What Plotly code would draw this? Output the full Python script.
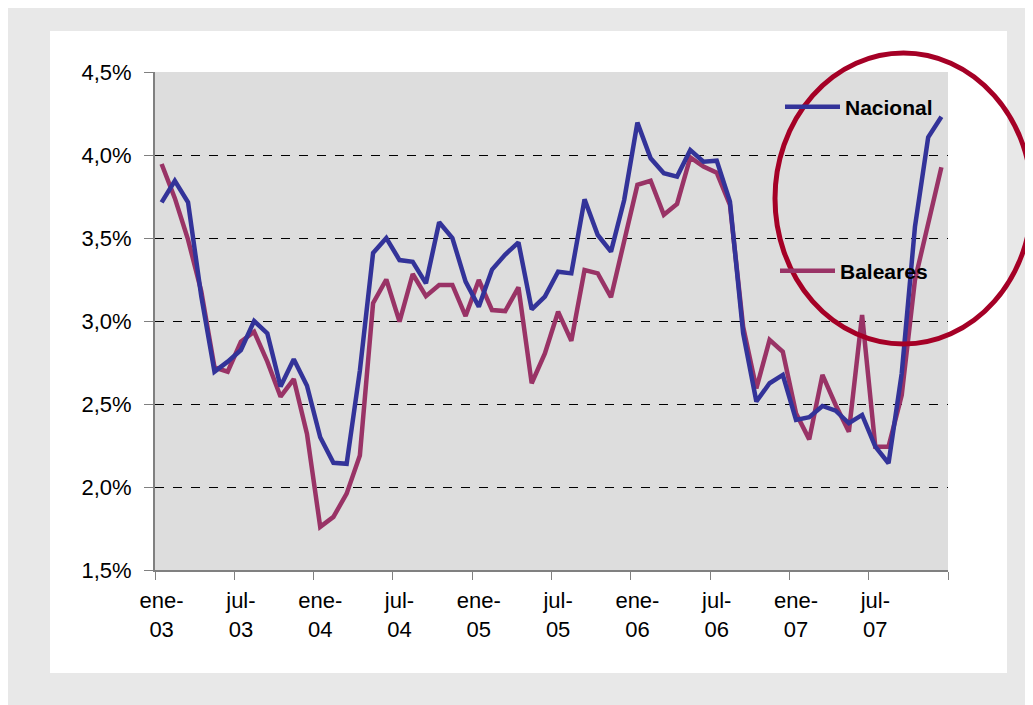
import plotly.graph_objects as go

# Monthly categories Jan-2003 .. Dec-2007
meses = ["ene", "feb", "mar", "abr", "may", "jun", "jul", "ago", "sep", "oct", "nov", "dic"]
anios = ["03", "04", "05", "06", "07"]
categorias = [f"{m}-{a}" for a in anios for m in meses]

nacional = [3.715, 3.845, 3.715, 3.15, 2.695, 2.755, 2.825, 3.0, 2.925, 2.605, 2.77, 2.61,
            2.30, 2.146, 2.14, 2.70, 3.41, 3.50, 3.367, 3.357, 3.227, 3.595, 3.50, 3.237,
            3.086, 3.31, 3.40, 3.474, 3.07, 3.147, 3.297, 3.287, 3.733, 3.518, 3.418, 3.729,
            4.195, 3.98, 3.89, 3.87, 4.03, 3.96, 3.966, 3.72, 2.926, 2.515, 2.625, 2.675,
            2.404, 2.42, 2.488, 2.46, 2.384, 2.434, 2.243, 2.143, 2.685, 3.568, 4.106, 4.23]

baleares = [3.946, 3.74, 3.49, 3.18, 2.72, 2.695, 2.875, 2.935, 2.755, 2.544, 2.65, 2.32,
            1.76, 1.82, 1.96, 2.19, 3.107, 3.25, 2.996, 3.283, 3.15, 3.217, 3.217, 3.03,
            3.247, 3.066, 3.06, 3.203, 2.625, 2.805, 3.056, 2.88, 3.307, 3.287, 3.143, 3.47,
            3.82, 3.845, 3.64, 3.705, 3.986, 3.93, 3.893, 3.70, 2.966, 2.594, 2.886, 2.815,
            2.444, 2.287, 2.675, 2.494, 2.333, 3.036, 2.243, 2.243, 2.554, 3.247, 3.59, 3.926]

etiquetas_x = ["ene-<br>03", "jul-<br>03", "ene-<br>04", "jul-<br>04", "ene-<br>05",
               "jul-<br>05", "ene-<br>06", "jul-<br>06", "ene-<br>07", "jul-<br>07"]
ticks_y = [1.5, 2.0, 2.5, 3.0, 3.5, 4.0, 4.5]
etiquetas_y = ["1,5%", "2,0%", "2,5%", "3,0%", "3,5%", "4,0%", "4,5%"]

OFF = 8  # page body margin
W, H = 1033 - OFF, 705 - OFF
L, R, T, B = 155 - OFF, 948 - OFF, 72 - OFF, 570 - OFF
pw, ph = R - L, B - T

def px(xp):
    return (xp - OFF - L) / pw

def py(yp):
    return (B - (yp - OFF)) / ph

idx = list(range(len(categorias)))
FONT = "Liberation Sans, Arial, sans-serif"

fig = go.Figure()
fig.add_trace(go.Scatter(x=idx, y=baleares, name="Baleares", mode="lines",
                         line=dict(color="#993366", width=4.5), legend="legend2",
                         text=categorias, hovertemplate="%{text}: %{y:.2f}%<extra>Baleares</extra>"))
fig.add_trace(go.Scatter(x=idx, y=nacional, name="Nacional", mode="lines",
                         line=dict(color="#333399", width=4.5), legend="legend",
                         text=categorias, hovertemplate="%{text}: %{y:.2f}%<extra>Nacional</extra>"))

n = len(categorias)
label_pos = idx[::6]
boundaries = [i - 0.5 for i in range(0, n + 1, 6)]

fig.update_layout(
    width=W, height=H,
    margin=dict(l=L, r=W - R, t=T, b=H - B, pad=0),
    paper_bgcolor="#E8E8E8",
    plot_bgcolor="rgba(0,0,0,0)",
    separators=",.",
    font=dict(family=FONT, color="black", size=22),
    showlegend=True,
    legend=dict(x=px(780), y=py(107), xanchor="left", yanchor="middle",
                bgcolor="rgba(0,0,0,0)", font=dict(size=21, family=FONT, weight="bold"),
                itemwidth=55),
    legend2=dict(x=px(775), y=py(271), xanchor="left", yanchor="middle",
                 bgcolor="rgba(0,0,0,0)", font=dict(size=21, family=FONT, weight="bold"),
                 itemwidth=55),
    xaxis=dict(range=[-0.5, n - 0.5], tickmode="array", tickvals=label_pos,
               ticktext=etiquetas_x, ticks="", showgrid=False, zeroline=False,
               showline=True, linecolor="#808080", linewidth=2,
               tickfont=dict(size=22), ticklabelstandoff=10,
               minor=dict(tickmode="array", tickvals=boundaries, ticks="outside",
                          ticklen=8, tickcolor="#808080", tickwidth=1, showgrid=False)),
    yaxis=dict(range=[1.5, 4.5], tickmode="array", tickvals=ticks_y,
               ticktext=etiquetas_y, ticks="outside", ticklen=9,
               tickcolor="#808080", showline=True, linecolor="#808080", linewidth=2,
               showgrid=True, gridcolor="black", gridwidth=1, griddash="dash",
               zeroline=False, tickfont=dict(size=22), ticklabelstandoff=8),
    shapes=[
        dict(type="rect", xref="paper", yref="paper", layer="below",
             x0=px(50), x1=px(1007), y0=py(673), y1=py(31),
             fillcolor="white", line=dict(width=0)),
        dict(type="rect", xref="paper", yref="paper", layer="below",
             x0=0, x1=1, y0=0, y1=1, fillcolor="#DDDDDD", line=dict(width=0)),
        dict(type="circle", xref="paper", yref="paper", layer="above",
             x0=px(775), x1=px(1032), y0=py(344), y1=py(53),
             line=dict(color="#A50026", width=5), fillcolor="rgba(0,0,0,0)"),
    ],
)

fig.write_html("out.html")
